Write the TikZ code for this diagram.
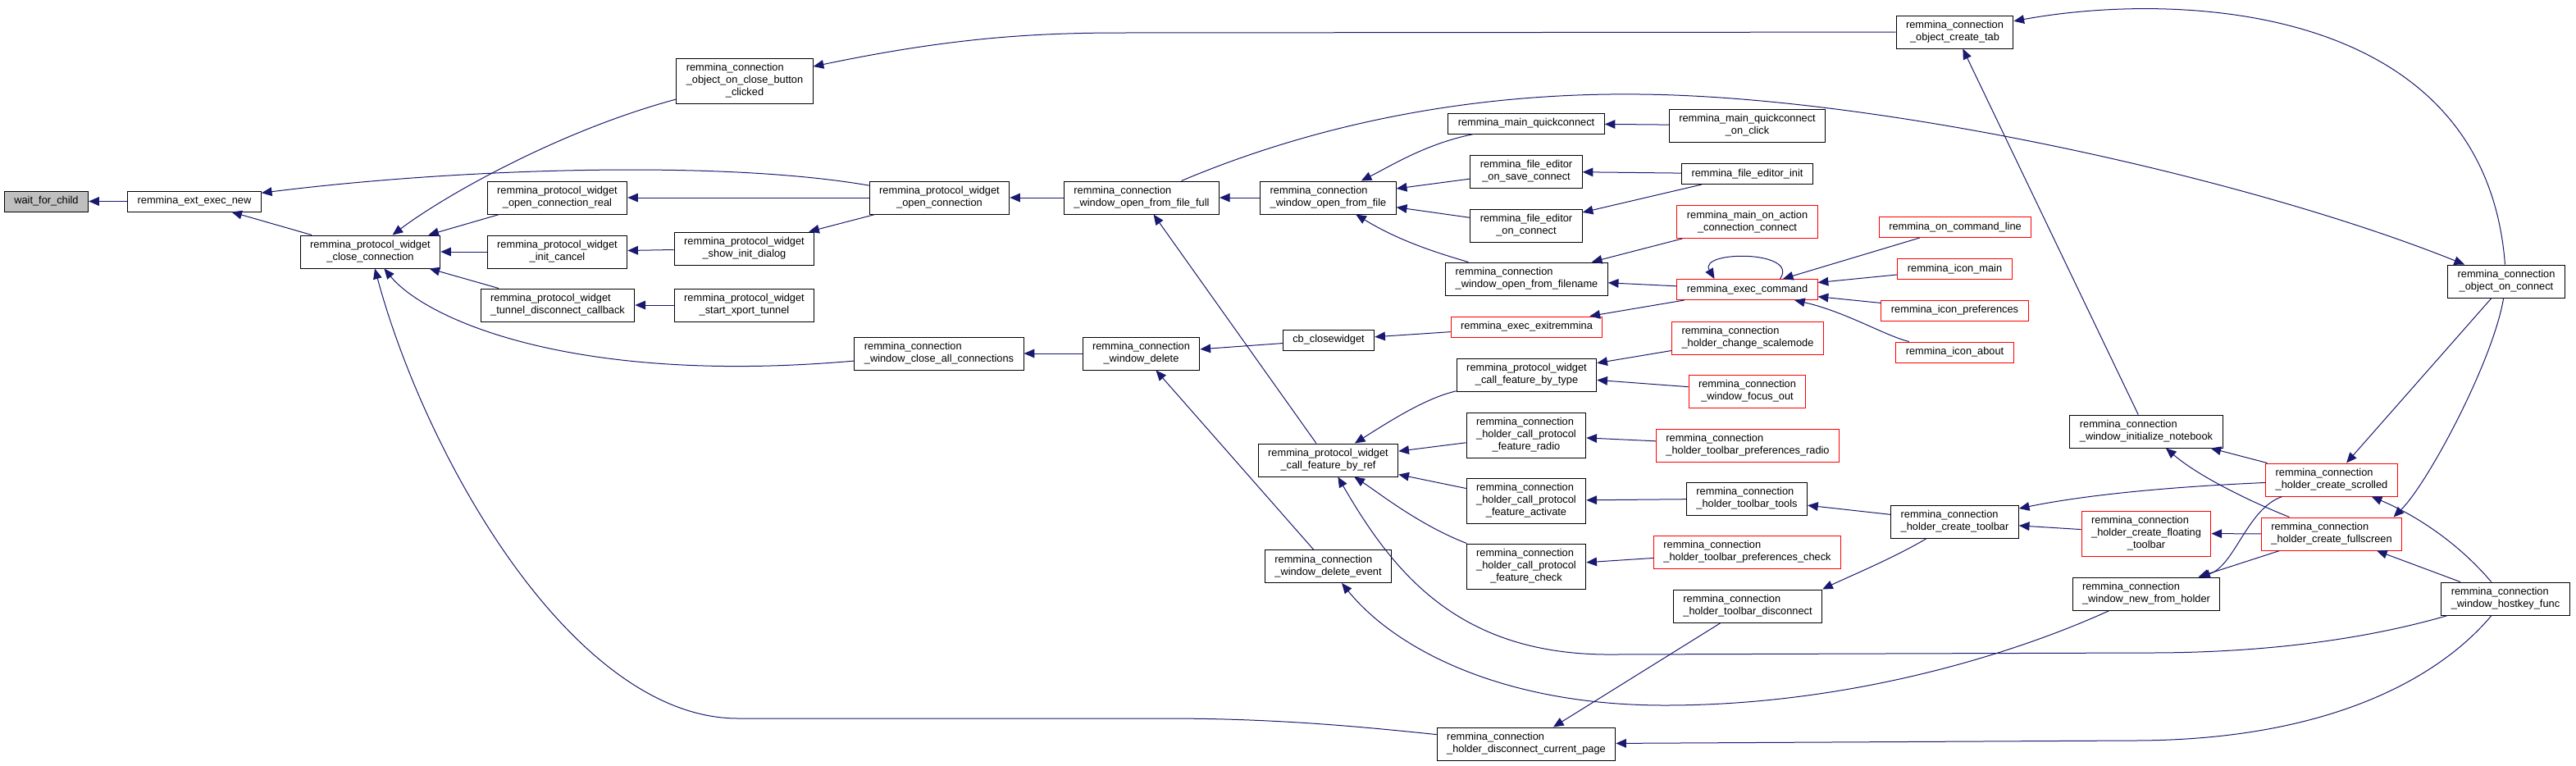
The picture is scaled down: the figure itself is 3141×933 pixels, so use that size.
\documentclass[tikz,border=0pt]{standalone}
\usepackage{fontspec}
\setmainfont{Liberation Sans}
\usepackage{xcolor}
\usetikzlibrary{arrows.meta}

\definecolor{edgeblue}{HTML}{191970}
\newcommand{\fnfont}{\fontsize{9.6}{11.25}\selectfont}
% first lines left, last line centred
\newcommand{\fnl}[2]{\begin{tabular}{@{}l@{}}#1\\\multicolumn{1}{@{}c@{}}{#2}\end{tabular}}

\begin{document}
\begin{tikzpicture}[
    x=0.75pt, y=-0.75pt,
    fn/.style={
        rectangle,
        draw=black,
        fill=white,
        line width=0.75pt,
        inner xsep=9pt,
        inner ysep=3.75pt,
        font=\fnfont,
        execute at begin node=\strut
    },
    hot/.style={fn, draw=red},
    root/.style={fn, fill=black!25},
    arrow/.style={{Stealth[inset=0pt, length=9.5pt, width=8pt]}-, draw=edgeblue, line width=0.75pt}
]
\useasboundingbox (0,0) rectangle (3141,933);

% Root
\node (wfc) [root] at (56.5,245.5) {wait\_for\_child};

% Column 1-2
\node (extnew) [fn] at (237,245.5) {remmina\_ext\_exec\_new};
\node (closeconn) [fn] at (451.5,307) {\fnl{remmina\_protocol\_widget}{\_close\_connection}};

% Column 3
\node (openreal) [fn] at (679.5,241) {\fnl{remmina\_protocol\_widget}{\_open\_connection\_real}};
\node (initcancel) [fn] at (679.5,307) {\fnl{remmina\_protocol\_widget}{\_init\_cancel}};
\node (tunneldisc) [fn] at (680,372) {\fnl{remmina\_protocol\_widget}{\_tunnel\_disconnect\_callback}};

% Column 4
\node (closebtn) [fn] at (908,98.5) {\fnl{remmina\_connection\\\_object\_on\_close\_button}{\_clicked}};
\node (showinit) [fn] at (907.5,303) {\fnl{remmina\_protocol\_widget}{\_show\_init\_dialog}};
\node (xport) [fn] at (907.5,372) {\fnl{remmina\_protocol\_widget}{\_start\_xport\_tunnel}};

% Column 5
\node (openconn) [fn] at (1145.5,241) {\fnl{remmina\_protocol\_widget}{\_open\_connection}};
\node (closeall) [fn] at (1145,431) {\fnl{remmina\_connection}{\_window\_close\_all\_connections}};

% Column 6
\node (fromfull) [fn] at (1392,241) {\fnl{remmina\_connection}{\_window\_open\_from\_file\_full}};
\node (windelete) [fn] at (1391.5,431) {\fnl{remmina\_connection}{\_window\_delete}};

% Column 7
\node (fromfile) [fn] at (1619.5,241) {\fnl{remmina\_connection}{\_window\_open\_from\_file}};
\node (cbclose) [fn] at (1620,414.5) {cb\_closewidget};
\node (byref) [fn] at (1619.5,561) {\fnl{remmina\_protocol\_widget}{\_call\_feature\_by\_ref}};
\node (delevent) [fn] at (1619.5,690.5) {\fnl{remmina\_connection}{\_window\_delete\_event}};

% Column 8
\node (quick) [fn] at (1861,150.5) {remmina\_main\_quickconnect};
\node (onsave) [fn] at (1861,209) {\fnl{remmina\_file\_editor}{\_on\_save\_connect}};
\node (onconnect) [fn] at (1861,275) {\fnl{remmina\_file\_editor}{\_on\_connect}};
\node (fromname) [fn] at (1861.5,340) {\fnl{remmina\_connection}{\_window\_open\_from\_filename}};
\node (exitremmina) [hot] at (1861.5,398.5) {remmina\_exec\_exitremmina};
\node (bytype) [fn] at (1861.5,457) {\fnl{remmina\_protocol\_widget}{\_call\_feature\_by\_type}};
\node (radio) [fn] at (1861,530.5) {\fnl{remmina\_connection\\\_holder\_call\_protocol}{\_feature\_radio}};
\node (activate) [fn] at (1861,610.5) {\fnl{remmina\_connection\\\_holder\_call\_protocol}{\_feature\_activate}};
\node (check) [fn] at (1861,690.5) {\fnl{remmina\_connection\\\_holder\_call\_protocol}{\_feature\_check}};
\node (disccur) [fn] at (1861,907) {\fnl{remmina\_connection}{\_holder\_disconnect\_current\_page}};

% Column 9
\node (quickclick) [fn] at (2130.5,153) {\fnl{remmina\_main\_quickconnect}{\_on\_click}};
\node (feinit) [fn] at (2130.5,212) {remmina\_file\_editor\_init};
\node (onaction) [hot] at (2130.5,270.5) {\fnl{remmina\_main\_on\_action}{\_connection\_connect}};
\node (execcmd) [hot] at (2130.5,353) {remmina\_exec\_command};
\node (scalemode) [hot] at (2131,412) {\fnl{remmina\_connection}{\_holder\_change\_scalemode}};
\node (focusout) [hot] at (2130.5,477) {\fnl{remmina\_connection}{\_window\_focus\_out}};
\node (prefradio) [hot] at (2131,543) {\fnl{remmina\_connection}{\_holder\_toolbar\_preferences\_radio}};
\node (tools) [fn] at (2130,608) {\fnl{remmina\_connection}{\_holder\_toolbar\_tools}};
\node (prefcheck) [hot] at (2130.5,673) {\fnl{remmina\_connection}{\_holder\_toolbar\_preferences\_check}};
\node (tbdisc) [fn] at (2131,739) {\fnl{remmina\_connection}{\_holder\_toolbar\_disconnect}};

% Column 10
\node (createtab) [fn] at (2383.5,39) {\fnl{remmina\_connection}{\_object\_create\_tab}};
\node (cmdline) [hot] at (2384,277) {remmina\_on\_command\_line};
\node (iconmain) [hot] at (2383.5,328) {remmina\_icon\_main};
\node (iconpref) [hot] at (2383.5,378.5) {remmina\_icon\_preferences};
\node (iconabout) [hot] at (2383.5,429.5) {remmina\_icon\_about};
\node (mktoolbar) [fn] at (2383.5,636) {\fnl{remmina\_connection}{\_holder\_create\_toolbar}};

% Column 11
\node (notebook) [fn] at (2617,526) {\fnl{remmina\_connection}{\_window\_initialize\_notebook}};
\node (floating) [hot] at (2617,650.5) {\fnl{remmina\_connection\\\_holder\_create\_floating}{\_toolbar}};
\node (newholder) [fn] at (2617,724) {\fnl{remmina\_connection}{\_window\_new\_from\_holder}};

% Column 12
\node (scrolled) [hot] at (2843,585) {\fnl{remmina\_connection}{\_holder\_create\_scrolled}};
\node (fullscr) [hot] at (2843,651) {\fnl{remmina\_connection}{\_holder\_create\_fullscreen}};

% Column 13
\node (onconnobj) [fn] at (3056,343) {\fnl{remmina\_connection}{\_object\_on\_connect}};
\node (hostkey) [fn] at (3055,730) {\fnl{remmina\_connection}{\_window\_hostkey\_func}};

% Connections
\draw [arrow] (wfc) -- (extnew);
\draw [arrow] (extnew) .. controls (560,205) and (880,195) .. (openconn);
\draw [arrow] (extnew) -- (closeconn);
\draw [arrow] (closeconn) .. controls (540,240) and (680,160) .. (closebtn);
\draw [arrow] (closeconn) -- (openreal);
\draw [arrow] (closeconn) -- (initcancel);
\draw [arrow] (closeconn) -- (tunneldisc);
\draw [arrow] (closeconn) .. controls (520,390) and (700,470) .. (closeall);
\draw [arrow] (closeconn) .. controls (520,560) and (700,876) .. (900,876) -- (1420,876) .. controls (1550,876) and (1650,885) .. (disccur);
\draw [arrow] (openreal) -- (openconn);
\draw [arrow] (initcancel) -- (showinit);
\draw [arrow] (showinit) -- (openconn);
\draw [arrow] (tunneldisc) -- (xport);
\draw [arrow] (closebtn) .. controls (1150,48) and (1250,40) .. (1367,40) -- (createtab);
\draw [arrow] (openconn) -- (fromfull);
\draw [arrow] (closeall) -- (windelete);
\draw [arrow] (fromfull) -- (fromfile);
\draw [arrow] (fromfull) -- (byref);
\draw [arrow] (onconnobj) .. controls (2750,220) and (2300,118) .. (2000,115) .. controls (1750,112) and (1560,170) .. (fromfull);
\draw [arrow] (createtab) .. controls (2650,-10) and (3030,0) .. (onconnobj);
\draw [arrow] (createtab) -- (notebook);
\draw [arrow] (scrolled) -- (onconnobj);
\draw [arrow] ([xshift=-8pt]fullscr.north east) .. controls (2960,590) and (3040,440) .. (onconnobj);
\draw [arrow] (notebook) -- (scrolled);
\draw [arrow] (notebook) .. controls (2680,580) and (2740,610) .. (fullscr);
\draw [arrow] (mktoolbar) .. controls (2560,600) and (2680,592) .. (scrolled);
\draw [arrow] (mktoolbar) -- (floating);
\draw [arrow] (floating) -- (fullscr);
\draw [arrow] (newholder) .. controls (2725,690) and (2740,620) .. (scrolled);
\draw [arrow] (newholder) -- (fullscr);
\draw [arrow] (scrolled) .. controls (2950,630) and (3000,665) .. (hostkey);
\draw [arrow] (fullscr) -- (hostkey);
\draw [arrow] (byref) .. controls (1700,700) and (1780,800) .. (1968,798) -- (2620,796) .. controls (2780,796) and (2900,775) .. (hostkey);
\draw [arrow] (delevent) .. controls (1700,790) and (1830,860) .. (2030,860) .. controls (2250,860) and (2450,800) .. (newholder);
\draw [arrow] (disccur) -- (2600,903) .. controls (2850,903) and (2980,820) .. (hostkey);
\draw [arrow] (disccur) -- (tbdisc);
\draw [arrow] (tbdisc.north east) .. controls (2250,705) and (2310,680) .. (mktoolbar);
\draw [arrow] (tools) -- (mktoolbar);
\draw [arrow] (windelete) -- (cbclose);
\draw [arrow] (windelete) -- (delevent);
\draw [arrow] (cbclose) -- (exitremmina);
\draw [arrow] (exitremmina) -- (execcmd);
\draw [arrow] (fromname) -- (execcmd);
\draw [arrow] ([xshift=-30pt]execcmd.north) .. controls (2070,305) and (2195,305) .. ([xshift=30pt]execcmd.north);
\draw [arrow] (execcmd) -- (cmdline);
\draw [arrow] (execcmd) -- (iconmain);
\draw [arrow] (execcmd) -- (iconpref);
\draw [arrow] (execcmd) .. controls (2250,380) and (2300,410) .. (iconabout);
\draw [arrow] (fromname) -- (onaction);
\draw [arrow] (fromfile) .. controls (1700,290) and (1740,305) .. (fromname);
\draw [arrow] (fromfile) -- (onconnect);
\draw [arrow] (fromfile) -- (onsave);
\draw [arrow] (fromfile) .. controls (1700,200) and (1740,175) .. (quick);
\draw [arrow] (quick) -- (quickclick);
\draw [arrow] (onsave) -- (feinit);
\draw [arrow] (onconnect) -- (feinit);
\draw [arrow] (byref) .. controls (1700,510) and (1740,485) .. (bytype);
\draw [arrow] (bytype) -- (scalemode);
\draw [arrow] (bytype) -- (focusout);
\draw [arrow] (byref) -- (radio);
\draw [arrow] (byref) -- (activate);
\draw [arrow] (byref) .. controls (1680,600) and (1730,640) .. (check);
\draw [arrow] (radio) -- (prefradio);
\draw [arrow] (activate) -- (tools);
\draw [arrow] (check) -- (prefcheck);

\end{tikzpicture}
\end{document}
